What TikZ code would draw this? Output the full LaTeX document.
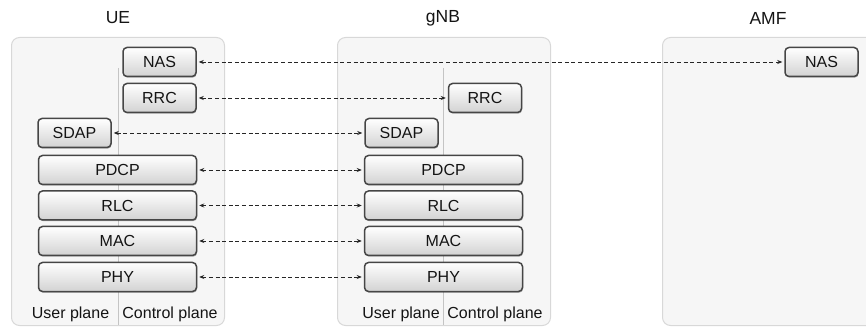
\documentclass[tikz,border=0pt]{standalone}
\usepackage{fontspec}
\setmainfont{Liberation Sans}
\usetikzlibrary{arrows.meta,shadows}
\definecolor{panelfill}{HTML}{F6F6F6}
\definecolor{paneldraw}{HTML}{D8D8D8}
\definecolor{boxdraw}{HTML}{464646}
\definecolor{divcol}{HTML}{C4C4C4}
\definecolor{txt}{HTML}{141414}
\tikzset{
  panel/.style={draw=paneldraw, fill=panelfill, line width=1pt, rounded corners=8pt, minimum width=213pt, minimum height=288pt, inner sep=0pt, anchor=north west},
  title/.style={font=\fontsize{17.5}{20}\selectfont, text=txt, inner sep=0pt},
  layer/.style={draw=boxdraw, line width=1.5pt, rounded corners=4pt, top color=white, bottom color=gray!35, minimum height=29pt, inner sep=0pt, font=\fontsize{16}{18}\selectfont, text=txt, drop shadow={shadow xshift=0.6pt, shadow yshift=-1.2pt, opacity=0.3, fill=black}},
  small/.style={layer, minimum width=73pt},
  wide/.style={layer, minimum width=158pt},
  planelbl/.style={font=\fontsize{16}{18}\selectfont, text=txt, inner sep=0pt},
  divider/.style={draw=divcol, line width=0.8pt},
  link/.style={draw=black!85, line width=0.65pt, dash pattern=on 4pt off 2.6pt, {Stealth[length=5pt,width=4pt]}-{Stealth[length=5pt,width=4pt]}, shorten <=2pt, shorten >=2pt}
}
\begin{document}
\begin{tikzpicture}[x=1pt,y=-1pt]
\useasboundingbox (0,0) rectangle (866,328);
\clip (0,0) rectangle (866,328);
% panels
\node[panel] (uep) at (11,37) {};
\node[panel] (gnbp) at (337,37) {};
\node[panel] (amfp) at (662,37) {};
% titles
\node[title] (uet) at (118,18) {UE};
\node[title] (gnbt) at (443,18) {gNB};
\node[title] (amft) at (768,18) {AMF};
% dividers
\coordinate (uedt) at (118,68);
\coordinate (uedb) at (118,325);
\coordinate (gnbdt) at (443,68);
\coordinate (gnbdb) at (443,325);
\draw[divider] (uedt) -- (uedb);
\draw[divider] (gnbdt) -- (gnbdb);
% UE stack
\node[small] (uenas) at (159.5,62) {NAS};
\node[small] (uerrc) at (159.5,98) {RRC};
\node[small] (uesdap) at (74.5,133) {SDAP};
\node[wide] (uepdcp) at (117.5,170) {PDCP};
\node[wide] (uerlc) at (117.5,205.5) {RLC};
\node[wide] (uemac) at (117.5,241) {MAC};
\node[wide] (uephy) at (117.5,277) {PHY};
% gNB stack
\node[small] (gnbrrc) at (485,98) {RRC};
\node[small] (gnbsdap) at (401.5,133) {SDAP};
\node[wide] (gnbpdcp) at (443.5,170) {PDCP};
\node[wide] (gnbrlc) at (443.5,205.5) {RLC};
\node[wide] (gnbmac) at (443.5,241) {MAC};
\node[wide] (gnbphy) at (443.5,277) {PHY};
% AMF
\node[small] (amfnas) at (821.5,62) {NAS};
% plane labels
\node[planelbl] (ueup) at (70.5,314) {User plane};
\node[planelbl] (uecp) at (170,314) {Control plane};
\node[planelbl] (gnbup) at (401,314) {User plane};
\node[planelbl] (gnbcp) at (495,314) {Control plane};
% links
\draw[link] (uenas.east) -- (amfnas.west);
\draw[link] (uerrc.east) -- (gnbrrc.west);
\draw[link] (uesdap.east) -- (gnbsdap.west);
\draw[link] (uepdcp.east) -- (gnbpdcp.west);
\draw[link] (uerlc.east) -- (gnbrlc.west);
\draw[link] (uemac.east) -- (gnbmac.west);
\draw[link] (uephy.east) -- (gnbphy.west);
\end{tikzpicture}
\end{document}
